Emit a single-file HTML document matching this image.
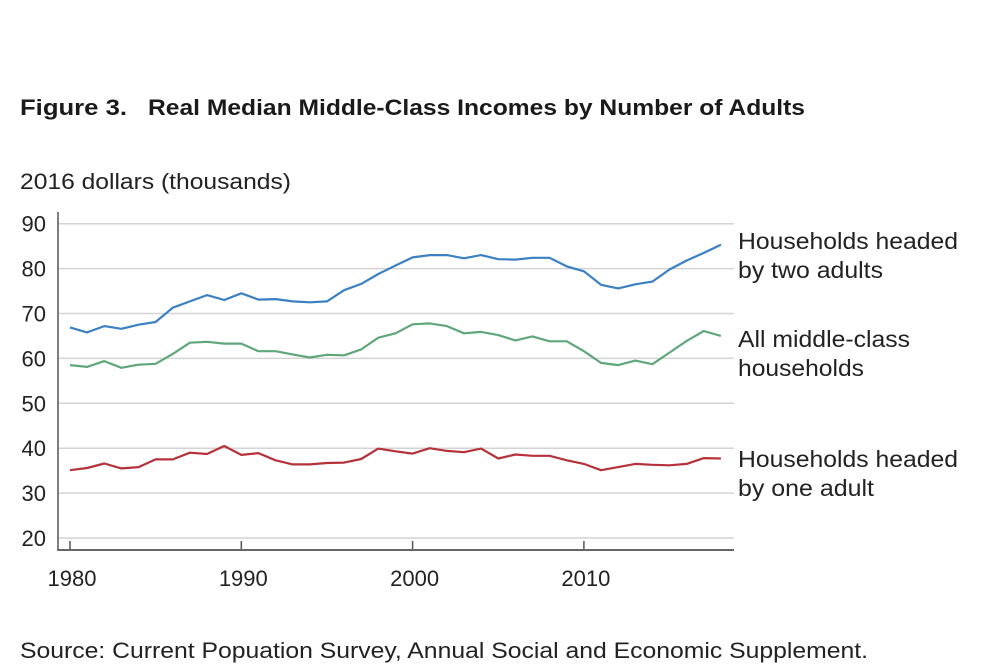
<!DOCTYPE html>
<html><head><meta charset="utf-8"><style>
body{margin:0;background:#fff;font-family:"Liberation Sans",Arial,sans-serif;}
svg{display:block}
</style></head><body>
<svg width="1000" height="671">
<text x="20" y="115" font-size="22" font-weight="bold" fill="#1a1a1a"><tspan textLength="107" lengthAdjust="spacingAndGlyphs">Figure 3.</tspan><tspan x="148" textLength="657" lengthAdjust="spacingAndGlyphs">Real Median Middle-Class Incomes by Number of Adults</tspan></text>
<text x="20" y="189" font-size="22" fill="#222" textLength="271" lengthAdjust="spacingAndGlyphs">2016 dollars (thousands)</text>
<g id="grid"></g>
<g id="yt"></g>
<g id="xt"></g>
<line x1="58" y1="212" x2="58" y2="551" stroke="#555" stroke-width="1.5"/>
<line x1="58" y1="550" x2="734" y2="550" stroke="#666" stroke-width="2"/>
<g id="lines"></g>
<g font-size="23" fill="#222">
<text x="738" y="249"><tspan x="738" textLength="220" lengthAdjust="spacingAndGlyphs">Households headed</tspan><tspan x="738" dy="29" textLength="145" lengthAdjust="spacingAndGlyphs">by two adults</tspan></text>
<text x="738" y="347"><tspan x="738" textLength="172" lengthAdjust="spacingAndGlyphs">All middle-class</tspan><tspan x="738" dy="29" textLength="126" lengthAdjust="spacingAndGlyphs">households</tspan></text>
<text x="738" y="467"><tspan x="738" textLength="220" lengthAdjust="spacingAndGlyphs">Households headed</tspan><tspan x="738" dy="29" textLength="136" lengthAdjust="spacingAndGlyphs">by one adult</tspan></text>
</g>
<text x="20" y="658" font-size="22" fill="#222" textLength="848" lengthAdjust="spacingAndGlyphs">Source: Current Popuation Survey, Annual Social and Economic Supplement.</text>
</svg>
<script>
const years=[1980,1981,1982,1983,1984,1985,1986,1987,1988,1989,1990,1991,1992,1993,1994,1995,1996,1997,1998,1999,2000,2001,2002,2003,2004,2005,2006,2007,2008,2009,2010,2011,2012,2013,2014,2015,2016,2017,2018];
const twoAdults=[66.9,65.8,67.2,66.6,67.5,68.1,71.3,72.7,74.1,73.0,74.5,73.1,73.2,72.7,72.5,72.7,75.2,76.6,78.8,80.7,82.5,83.0,83.0,82.3,83.0,82.1,82.0,82.4,82.4,80.5,79.4,76.4,75.6,76.5,77.1,79.8,81.8,83.5,85.3];
const allHouseholds=[58.5,58.1,59.4,57.9,58.6,58.8,61.0,63.5,63.7,63.3,63.3,61.6,61.6,60.9,60.2,60.8,60.7,62.0,64.6,65.6,67.6,67.8,67.2,65.6,65.9,65.2,64.0,64.9,63.8,63.8,61.6,59.0,58.5,59.5,58.7,61.3,63.9,66.1,65.0];
const oneAdult=[35.1,35.6,36.6,35.5,35.8,37.5,37.5,39.0,38.7,40.5,38.5,38.9,37.3,36.4,36.4,36.7,36.8,37.6,39.9,39.3,38.8,40.0,39.4,39.1,39.9,37.7,38.6,38.3,38.3,37.3,36.5,35.1,35.8,36.5,36.3,36.2,36.5,37.8,37.7];
const yTicks=[20,30,40,50,60,70,80,90];
const xTicks=[1980,1990,2000,2010];
const NS="http://www.w3.org/2000/svg";
const X=y=>70+(y-1980)*17.13;
const Y=v=>538-(v-20)*4.49;
const grid=document.getElementById('grid'),yt=document.getElementById('yt'),xt=document.getElementById('xt'),lines=document.getElementById('lines');
yTicks.forEach(t=>{
 const l=document.createElementNS(NS,'line');
 l.setAttribute('x1',58);l.setAttribute('x2',734);l.setAttribute('y1',Y(t));l.setAttribute('y2',Y(t));
 l.setAttribute('stroke','#d4d4d4');l.setAttribute('stroke-width','1.5');
 
 
 grid.appendChild(l);
 const tx=document.createElementNS(NS,'text');
 tx.setAttribute('x',46);tx.setAttribute('y',Y(t)+8);tx.setAttribute('text-anchor','end');tx.setAttribute('font-size','22');tx.setAttribute('fill','#222');
 tx.textContent=t;
 
 
 yt.appendChild(tx);
});
xTicks.forEach(t=>{
 const l=document.createElementNS(NS,'line');
 l.setAttribute('x1',X(t));l.setAttribute('x2',X(t));l.setAttribute('y1',541);l.setAttribute('y2',550);
 l.setAttribute('stroke','#555');l.setAttribute('stroke-width','1.5');
 
 
 xt.appendChild(l);
 const tx=document.createElementNS(NS,'text');
 tx.setAttribute('x',X(t)+2);tx.setAttribute('y',586);tx.setAttribute('text-anchor','middle');tx.setAttribute('font-size','22');tx.setAttribute('fill','#222');
 tx.textContent=t;
 
 
 xt.appendChild(tx);
});
function draw(vals,color,name){
 const p=document.createElementNS(NS,'polyline');
 p.setAttribute('points',vals.map((v,i)=>X(years[i]).toFixed(1)+','+Y(v).toFixed(1)).join(' '));
 p.setAttribute('fill','none');p.setAttribute('stroke',color);p.setAttribute('stroke-width','2.2');p.setAttribute('stroke-linejoin','round');
 
 
 lines.appendChild(p);
}
draw(twoAdults,'#3b80c3','line-two-adults');
draw(allHouseholds,'#5fa77a','line-all-households');
draw(oneAdult,'#b5323b','line-one-adult');
</script>
</body></html>
